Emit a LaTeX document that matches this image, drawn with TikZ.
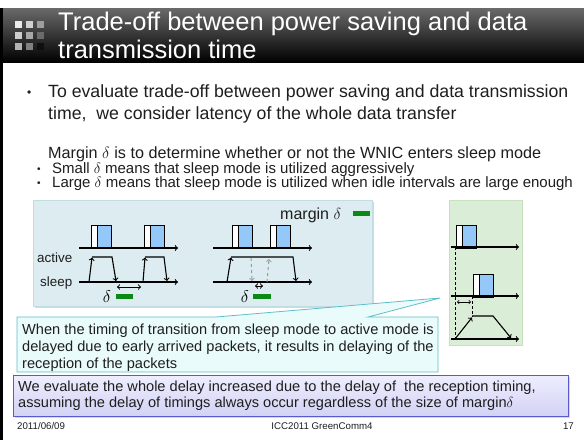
\documentclass[tikz,border=0pt]{standalone}
\usepackage{fix-cm}
\usepackage{fontspec}
\setmainfont{Liberation Sans}
\usepackage{amsmath}
\usepackage{tikz}

\definecolor{hdrtop}{HTML}{6A6A6A}
\definecolor{pktblue}{HTML}{94C8F8}
\definecolor{panelblue}{HTML}{DCECF0}
\definecolor{panelblueline}{HTML}{C2DCE4}
\definecolor{panelgreen}{HTML}{DAEDD6}
\definecolor{panelgreenline}{HTML}{C6E0C0}
\definecolor{bargreen}{HTML}{0A8A14}
\definecolor{callfill}{HTML}{EAFBFC}
\definecolor{callline}{HTML}{5FBFC9}
\definecolor{boxtop}{HTML}{EEEEFF}
\definecolor{boxbottom}{HTML}{D2D2F4}
\definecolor{boxline}{HTML}{5A5ACD}
\definecolor{bodytext}{HTML}{1E1E1E}
\definecolor{dashgray}{HTML}{9A9A9A}

\begin{document}
\begin{tikzpicture}[x=1pt,y=-1pt,
    txt/.style={anchor=base west,inner sep=0pt,text=bodytext},
    axis/.style={->,line width=1.1pt},
    sw/.style={->,line width=1.1pt},
    pkthead/.style={draw=black,line width=0.8pt,fill=white},
    pktbody/.style={draw=black,line width=0.8pt,fill=pktblue},
    guide/.style={densely dashed,line width=0.5pt}]
    \useasboundingbox (0,0) rectangle (584,440);
    \fill[white] (0,0) rectangle (584,440);

    % header band
    \shade[top color=hdrtop,bottom color=black] (3,8) rectangle (584,62);
    \fill[black] (0,8) rectangle (3,440);
    \foreach \i/\j/\s in {0/0/92,1/0/82,2/0/62,0/1/80,1/1/66,2/1/42,0/2/70,1/2/50,2/2/6}
        \fill[white!\s!black] (15+11*\i,21+11*\j) rectangle ++(7,7);
    \node[txt,text=white,font=\fontsize{25.5}{28}\selectfont] (title1) at (58,30) {Trade-off between power saving and data};
    \node[txt,text=white,font=\fontsize{25.5}{28}\selectfont] (title2) at (58,58) {transmission time};

    % bullets
    \node[txt,font=\fontsize{12}{14}\selectfont] (dot1) at (27,96) {•};
    \node[txt,font=\fontsize{17.7}{22}\selectfont] (bul1a) at (48,97)
        {To evaluate trade-off between power saving and data transmission};
    \node[txt,font=\fontsize{17.7}{22}\selectfont] (bul1b) at (48,119)
        {time,\ \ we consider latency of the whole data transfer};
    \node[txt,font=\fontsize{16.2}{19}\selectfont] (margin) at (48,158.5)
        {Margin $\delta$ is to determine whether or not the WNIC enters sleep mode};
    \node[txt,font=\fontsize{10}{12}\selectfont] (dot2) at (37,172.5) {•};
    \node[txt,font=\fontsize{10}{12}\selectfont] (dot3) at (37,186.5) {•};
    \node[txt,font=\fontsize{15}{16}\selectfont] (subA) at (52,173)
        {Small $\delta$ means that sleep mode is utilized aggressively};
    \node[txt,font=\fontsize{15}{16}\selectfont] (subB) at (52,187)
        {Large $\delta$ means that sleep mode is utilized when idle intervals are large enough};

    % panels
    \fill[black!30,opacity=0.5] (35,202) rectangle (374,308);
    \filldraw[fill=panelblue,draw=panelblueline] (33,200) rectangle (372,306);
    \filldraw[fill=panelgreen,draw=panelgreenline] (449,200) rectangle (522,345);

    % packets
    \foreach \px/\py in {91/225,144/225,232/225,270/225,456/225,473/274} {
        \draw[pkthead] (\px,\py) rectangle ++(6,23);
        \draw[pktbody] (\px+6,\py) rectangle ++(14,23);
    }

    % small delta
    \draw[axis] (79,248) -- (178,248);
    \draw[axis] (79,282) -- (178,282);
    \draw[sw] (89,282) -- (92,257.5);
    \draw[sw] (92,257) -- (112,257) -- (116,281);
    \draw[sw] (143,282) -- (145,257.5);
    \draw[sw] (145,257) -- (164,257) -- (167,281);
    \draw[<->,line width=1pt] (117,287) -- (141,287);
    \node[txt,font=\fontsize{13.4}{15}\selectfont] (lblactive) at (37,262.5) {active};
    \node[txt,font=\fontsize{13.4}{15}\selectfont] (lblsleep) at (40,286) {sleep};
    \node[inner sep=0pt,font=\fontsize{17}{19}\selectfont] (deltaA) at (107,297) {$\delta$};
    \fill[bargreen] (116,294) rectangle (133,299);

    % large delta
    \draw[axis] (213,248) -- (312,248);
    \draw[axis] (213,282) -- (312,282);
    \draw[sw] (227,282) -- (231,257.5);
    \draw[sw] (231,257) -- (293,257) -- (296,281);
    \draw[->,dashed,dashgray,line width=1pt] (251,258) -- (252,281);
    \draw[->,dashed,dashgray,line width=1pt] (267,282) -- (269,259);
    \draw[<->,line width=1pt] (255,286) -- (263,286);
    \node[inner sep=0pt,font=\fontsize{17}{19}\selectfont] (deltaB) at (245,297) {$\delta$};
    \fill[bargreen] (253,294) rectangle (271,299);
    \node[txt,font=\fontsize{16}{18}\selectfont] (mlabel) at (280,219) {margin $\delta$};
    \fill[bargreen] (353,211) rectangle (370,216);

    % delayed wake up
    \draw[axis] (451,247) -- (519,247);
    \draw[axis] (451,296) -- (519,296);
    \draw[axis] (451,339) -- (519,339);
    \draw[guide] (455,247) -- (455,339);
    \draw[guide] (472,296) -- (472,317);
    \draw[<->,line width=0.7pt] (457,302) -- (471,302);
    \draw[sw] (455,339) -- (472,317.5);
    \draw[sw] (472,316) -- (493,316) -- (511,338);

    % callout
    \filldraw[fill=callfill,draw=callline,line width=0.8pt]
        (17,317) -- (216,317) -- (440,298) -- (368,317) -- (438,317) -- (438,372) -- (17,372) -- cycle;
    \node[txt,font=\fontsize{14.6}{17.5}\selectfont] (callA) at (22,334)
        {When the timing of transition from sleep mode to active mode is};
    \node[txt,font=\fontsize{14.6}{17.5}\selectfont] (callB) at (22,351)
        {delayed due to early arrived packets, it results in delaying of the};
    \node[txt,font=\fontsize{14.6}{17.5}\selectfont] (callC) at (22,368)
        {reception of the packets};

    % conclusion box
    \fill[black!30,opacity=0.5] (15,377) rectangle (570,418);
    \shadedraw[top color=boxtop,bottom color=boxbottom,draw=boxline,line width=0.8pt] (13,375) rectangle (568,416);
    \node[txt,font=\fontsize{14.6}{16}\selectfont] (conclA) at (18,391)
        {We evaluate the whole delay increased due to the delay of\ \ the reception timing,};
    \node[txt,font=\fontsize{14.6}{16}\selectfont] (conclB) at (18,407)
        {assuming the delay of timings always occur regardless of the size of margin$\delta$};

    % footer
    \node[txt,font=\fontsize{9.7}{11}\selectfont] (fdate) at (17,429) {2011/06/09};
    \node[anchor=base,inner sep=0pt,text=bodytext,font=\fontsize{9.7}{11}\selectfont] (fconf) at (322,429) {ICC2011 GreenComm4};
    \node[anchor=base east,inner sep=0pt,text=bodytext,font=\fontsize{9.7}{11}\selectfont] (fpage) at (574,429) {17};
\end{tikzpicture}
\end{document}
